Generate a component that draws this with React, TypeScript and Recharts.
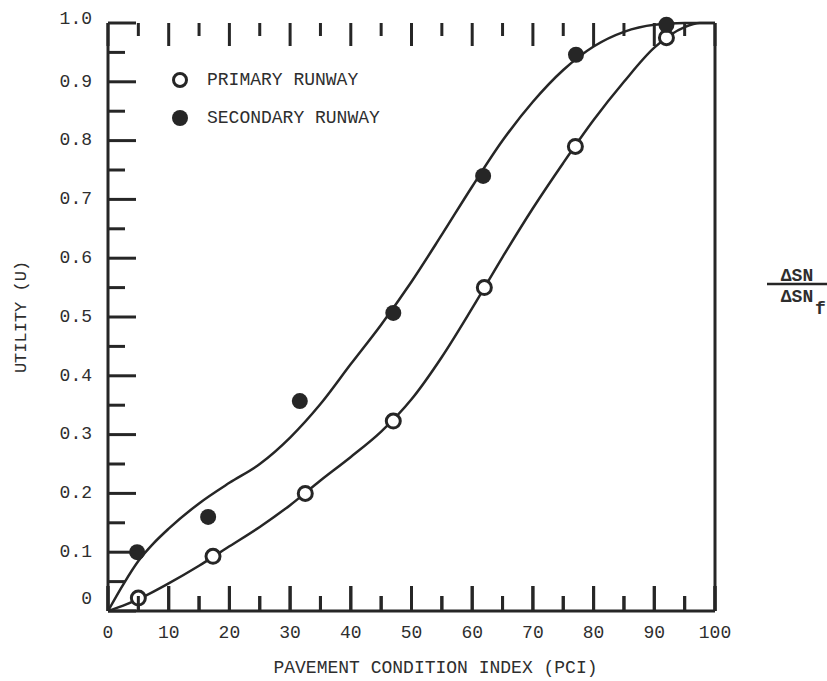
import { ComposedChart, Line, Scatter, XAxis, YAxis, Legend } from "recharts";

// smooth curves, every few PCI
const curvePci = [0, 2.5, 5, 7.5, 10, 15, 20, 25, 30, 35, 40, 45, 50, 55, 60, 65, 70, 75, 80, 85, 90, 95, 97.5, 100];
const primaryCurve = [
  0, 0.009, 0.02, 0.033, 0.047, 0.077, 0.11, 0.143, 0.18, 0.222, 0.262, 0.305, 0.36, 0.432, 0.515, 0.602, 0.685,
  0.762, 0.835, 0.9, 0.958, 0.993, 1.0, 1.0,
];
const secondaryCurve = [
  0, 0.045, 0.085, 0.115, 0.14, 0.183, 0.218, 0.25, 0.295, 0.352, 0.42, 0.487, 0.56, 0.64, 0.722, 0.8, 0.866,
  0.92, 0.96, 0.985, 0.997, 1.0, 1.0, 1.0,
];

// measured points
const primaryPci = [5, 17.3, 32.5, 47, 62, 77, 92];
const primaryU = [0.022, 0.093, 0.2, 0.323, 0.55, 0.79, 0.975];
const secondaryPci = [4.8, 16.5, 31.6, 47, 61.8, 77.1, 92];
const secondaryU = [0.1, 0.16, 0.357, 0.507, 0.74, 0.946, 0.997];

const xTicks = [0, 5, 10, 15, 20, 25, 30, 35, 40, 45, 50, 55, 60, 65, 70, 75, 80, 85, 90, 95, 100];
const yTicks = [0, 0.05, 0.1, 0.15, 0.2, 0.25, 0.3, 0.35, 0.4, 0.45, 0.5, 0.55, 0.6, 0.65, 0.7, 0.75, 0.8, 0.85, 0.9, 0.95, 1];

const curveRows = curvePci.map((pci, i) => ({ pci, primary: primaryCurve[i], secondary: secondaryCurve[i] }));
const primaryPoints = primaryPci.map((pci, i) => ({ pci, u: primaryU[i] }));
const secondaryPoints = secondaryPci.map((pci, i) => ({ pci, u: secondaryU[i] }));
// the x frame ticks point inward; they hang from a row just inside each frame edge
const frameRows = xTicks.flatMap((pci) => [
  { pci, u: 0.05 },
  { pci, u: 0.95 },
]);

const ink = "#262626";
const textInk = "#2e2e2e";
const font = "'Liberation Mono', 'DejaVu Sans Mono', monospace";
const plotHeight = 588; // px between U=0 and U=1
const rowOffset = 0.05 * plotHeight; // px from frame to the mark rows

const isMajorX = (v: number) => Math.round(v) % 10 === 0;
const isMajorY = (v: number) => Math.round(v * 100) % 10 === 0;
const fmtY = (v: number) => (v === 0 ? "0" : v.toFixed(1));

function BottomTick(props: any) {
  const x = Number(props.x);
  const y = Number(props.y);
  const v = props.payload.value;
  if (!isMajorX(v)) return <g />;
  return (
    <text x={x} y={y + 22} textAnchor="middle" dominantBaseline="middle" fontFamily={font} fontSize={18} fill={textInk}>
      {v}
    </text>
  );
}

function LeftTick({ x, y, payload }: any) {
  const v = payload.value;
  const major = isMajorY(v);
  const dy = v === 0 ? -12 : v === 1 ? -4 : 0;
  return (
    <g>
      <line x1={x} x2={x + (major ? 28 : 17)} y1={y} y2={y} stroke={ink} strokeWidth={3} />
      {major && (
        <text x={x - 16} y={y + dy} textAnchor="end" dominantBaseline="middle" fontFamily={font} fontSize={18} fill={textInk}>
          {fmtY(v)}
        </text>
      )}
    </g>
  );
}

function RightTick({ x, y, payload }: any) {
  const v = payload.value;
  const major = isMajorY(v);
  const dy = v === 0 ? 5 : 0;
  return (
    <g>
      <line x1={x} x2={x - (major ? 27 : 16)} y1={y} y2={y} stroke={ink} strokeWidth={3} />
      {major && (
        <text x={x + 8} y={y + dy} textAnchor="start" dominantBaseline="middle" fontFamily={font} fontSize={18} fill={textInk}>
          {fmtY(v)}
        </text>
      )}
    </g>
  );
}

const FrameMark = (p: any) => {
  const major = isMajorX(p.payload.pci);
  if (p.payload.u < 0.5) {
    const base = p.cy + rowOffset;
    return <line x1={p.cx} x2={p.cx} y1={base} y2={base - (major ? 25 : 15)} stroke={ink} strokeWidth={3} />;
  }
  const base = p.cy - rowOffset;
  return <line x1={p.cx} x2={p.cx} y1={base} y2={base + (major ? 23 : 13)} stroke={ink} strokeWidth={3} />;
};

// same bottom marks again, hung off a flat U=0 line in case the scatter row is hidden
const BaseMark = (p: any) => {
  const pci = p.payload?.pci;
  if (pci === undefined || Math.round(pci * 10) % 50 !== 0) return <g key={p.key ?? `m${p.index}`} />;
  return (
    <line
      key={p.key ?? `m${p.index}`}
      x1={p.cx}
      x2={p.cx}
      y1={p.cy}
      y2={p.cy - (isMajorX(pci) ? 25 : 15)}
      stroke={ink}
      strokeWidth={3}
    />
  );
};

function FractionLabel() {
  return (
    <g fontFamily={font} fontSize={18} fontWeight="bold" fill={textInk}>
      <text x={797} y={276} textAnchor="middle" dominantBaseline="middle">
        ΔSN
      </text>
      <line x1={767} x2={827} y1={284} y2={284} stroke={ink} strokeWidth={2.5} />
      <text x={797} y={297} textAnchor="middle" dominantBaseline="middle">
        ΔSN
      </text>
      <text x={815} y={309} textAnchor="start" dominantBaseline="middle">
        f
      </text>
    </g>
  );
}

function RunwayLegend() {
  const row = { display: "flex", alignItems: "center", height: 38 } as const;
  return (
    <div style={{ fontFamily: font, fontSize: 18, color: textInk }}>
      <div style={row}>
        <svg width={30} height={20}>
          <circle cx={10} cy={10} r={6.5} fill="#fff" stroke={ink} strokeWidth={3} />
        </svg>
        <span style={{ marginLeft: 7 }}>PRIMARY RUNWAY</span>
      </div>
      <div style={row}>
        <svg width={30} height={20}>
          <circle cx={10} cy={10} r={8} fill={ink} />
        </svg>
        <span style={{ marginLeft: 7 }}>SECONDARY RUNWAY</span>
      </div>
    </div>
  );
}

const OpenDot = (p: any) => <circle cx={p.cx} cy={p.cy} r={7} fill="#fff" stroke={ink} strokeWidth={3} />;
const FilledDot = (p: any) => <circle cx={p.cx} cy={p.cy} r={8} fill={ink} />;

export default function App() {
  return (
    <div style={{ position: "absolute", left: 0, top: 0, width: 827, height: 681, background: "#fff" }}>
      <ComposedChart width={827} height={681} data={curveRows} margin={{ top: 23, right: 52, bottom: 0, left: 48 }}>
        <XAxis
          xAxisId="bottom"
          dataKey="pci"
          type="number"
          domain={[0, 100]}
          ticks={xTicks}
          interval={0}
          height={70}
          tickSize={0}
          tickMargin={0}
          tickLine={false}
          tick={<BottomTick />}
          axisLine={{ stroke: ink, strokeWidth: 3 }}
          label={{
            value: "PAVEMENT CONDITION INDEX (PCI)",
            position: "insideBottom",
            offset: 8,
            dx: 24,
            style: { fontFamily: font, fontSize: 18, fill: textInk },
          }}
        />
        <XAxis
          xAxisId="top"
          orientation="top"
          type="number"
          domain={[0, 100]}
          height={0}
          tick={false}
          tickLine={false}
          axisLine={{ stroke: ink, strokeWidth: 3 }}
        />
        <YAxis
          yAxisId="left"
          type="number"
          domain={[0, 1]}
          ticks={yTicks}
          interval={0}
          width={60}
          tickSize={0}
          tickMargin={0}
          tickLine={false}
          tick={<LeftTick />}
          axisLine={{ stroke: ink, strokeWidth: 3 }}
          label={{
            value: "UTILITY (U)",
            angle: -90,
            position: "center",
            dx: -58,
            style: { fontFamily: font, fontSize: 17, fill: textInk, textAnchor: "middle" },
          }}
        />
        <YAxis
          yAxisId="right"
          orientation="right"
          type="number"
          domain={[0, 1]}
          reversed
          ticks={yTicks}
          interval={0}
          width={60}
          tickSize={0}
          tickMargin={0}
          tickLine={false}
          tick={<RightTick />}
          axisLine={{ stroke: ink, strokeWidth: 3 }}
          label={<FractionLabel />}
        />
        <Legend
          layout="vertical"
          align="center"
          verticalAlign="middle"
          content={<RunwayLegend />}
          wrapperStyle={{ left: 170, top: 61, width: "auto" }}
        />
        <Line
          xAxisId="bottom"
          yAxisId="left"
          dataKey={() => 0}
          type="linear"
          stroke="none"
          dot={BaseMark}
          activeDot={false}
          legendType="none"
          isAnimationActive={false}
        />
        <Line
          xAxisId="bottom"
          yAxisId="left"
          dataKey="primary"
          type="monotone"
          stroke={ink}
          strokeWidth={2.5}
          dot={false}
          isAnimationActive={false}
        />
        <Line
          xAxisId="bottom"
          yAxisId="left"
          dataKey="secondary"
          type="monotone"
          stroke={ink}
          strokeWidth={2.5}
          dot={false}
          isAnimationActive={false}
        />
        <Scatter
          xAxisId="bottom"
          yAxisId="left"
          data={frameRows}
          dataKey="u"
          shape={FrameMark}
          legendType="none"
          isAnimationActive={false}
        />
        <Scatter
          xAxisId="bottom"
          yAxisId="left"
          data={primaryPoints}
          dataKey="u"
          shape={OpenDot}
          isAnimationActive={false}
        />
        <Scatter
          xAxisId="bottom"
          yAxisId="left"
          data={secondaryPoints}
          dataKey="u"
          shape={FilledDot}
          isAnimationActive={false}
        />
      </ComposedChart>
    </div>
  );
}
